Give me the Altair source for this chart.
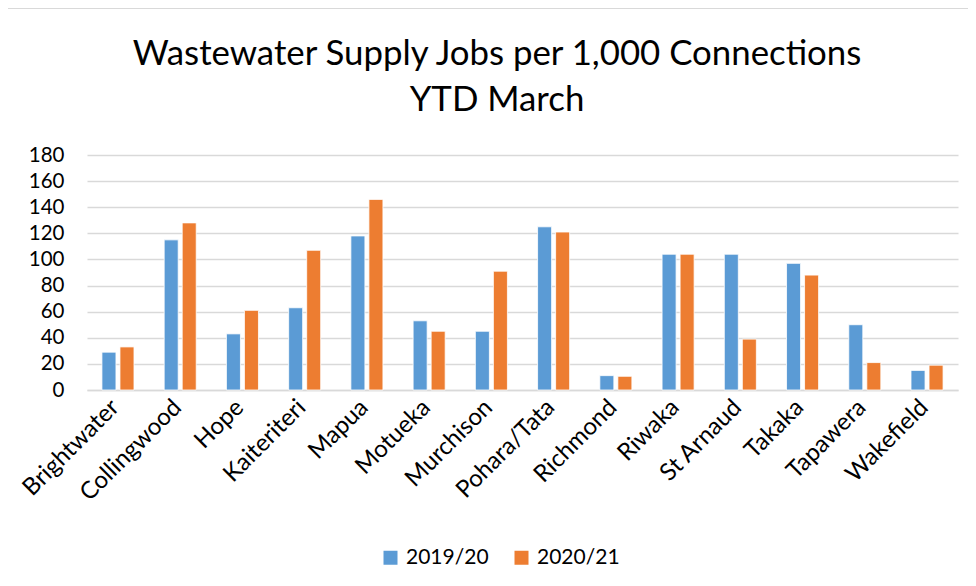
import altair as alt
import pandas as pd

towns = ["Brightwater", "Collingwood", "Hope", "Kaiteriteri", "Mapua", "Motueka",
         "Murchison", "Pohara/Tata", "Richmond", "Riwaka", "St Arnaud", "Takaka",
         "Tapawera", "Wakefield"]
y2019 = [29, 115, 43, 63, 118, 53, 45, 125, 11, 104, 104, 97, 50, 15]
y2020 = [33, 128, 61, 107, 146, 45, 91, 121, 10.5, 104, 39, 88, 21, 19]
series = ["2019/20", "2020/21"]
colors = ["#5B9BD5", "#ED7D31"]
title_lines = ["Wastewater Supply Jobs per 1,000 Connections", "YTD March"]

rows = []
for t, a, b in zip(towns, y2019, y2020):
    rows.append({"Town": t, "Year": series[0], "Value": a})
    rows.append({"Town": t, "Year": series[1], "Value": b})
df = pd.DataFrame(rows)

FONT = "Lato"

bars = alt.Chart(df).mark_bar(stroke="white", strokeWidth=0.8).encode(
    x=alt.X("Town:N", sort=towns, title=None,
            scale=alt.Scale(paddingInner=0.485, paddingOuter=0.24),
            axis=alt.Axis(labelAngle=-45, labelFontSize=24, labelColor="#000000",
                          labelFont=FONT, ticks=False, domainColor="#d9d9d9",
                          domainWidth=1.5, labelPadding=5, labelOffset=-11)),
    xOffset=alt.XOffset("Year:N", scale=alt.Scale(paddingInner=0.222, paddingOuter=0)),
    y=alt.Y("Value:Q", title=None,
            scale=alt.Scale(domain=[0, 180], nice=False),
            axis=alt.Axis(values=list(range(0, 181, 20)), labelFontSize=20.5,
                          labelColor="#000000", labelFont=FONT, ticks=False,
                          domain=False, gridColor="#d9d9d9", gridWidth=1.5,
                          labelPadding=23)),
    color=alt.Color("Year:N", sort=series,
                    scale=alt.Scale(domain=series, range=colors),
                    legend=alt.Legend(title=None, orient="none", direction="horizontal",
                                      legendX=293, legendY=392, symbolType="square",
                                      symbolSize=196, symbolStrokeWidth=0,
                                      labelFontSize=21, labelFont=FONT,
                                      labelColor="#000000", columnPadding=22,
                                      labelOffset=5)),
)

one = pd.DataFrame({"k": [0]})
left_border = alt.Chart(one).mark_rule(color="#d9d9d9", strokeWidth=2).encode(
    x=alt.value(-80), y=alt.value(-147), y2=alt.value(431))
top_border = alt.Chart(one).mark_rule(color="#d9d9d9", strokeWidth=2).encode(
    x=alt.value(-80), x2=alt.value(889), y=alt.value(-147))

title1 = alt.Chart(pd.DataFrame({"t": [title_lines[0]]})).mark_text(
    font=FONT, fontSize=34.8, color="#000000", align="center", baseline="alphabetic"
).encode(text="t:N", x=alt.value(410), y=alt.value(-90))
title2 = alt.Chart(pd.DataFrame({"t": [title_lines[1]]})).mark_text(
    font=FONT, fontSize=34.8, color="#000000", align="center", baseline="alphabetic"
).encode(text="t:N", x=alt.value(410), y=alt.value(-44))

chart = alt.layer(left_border, top_border, title1, title2, bars).properties(
    width=871,
    height=235,
    autosize=alt.AutoSizeParams(type="none"),
    padding={"left": 79, "top": 147, "right": 10, "bottom": 188},
).configure_view(stroke=None)

chart.save("out.html", embed_options={"renderer": "svg", "actions": False})
